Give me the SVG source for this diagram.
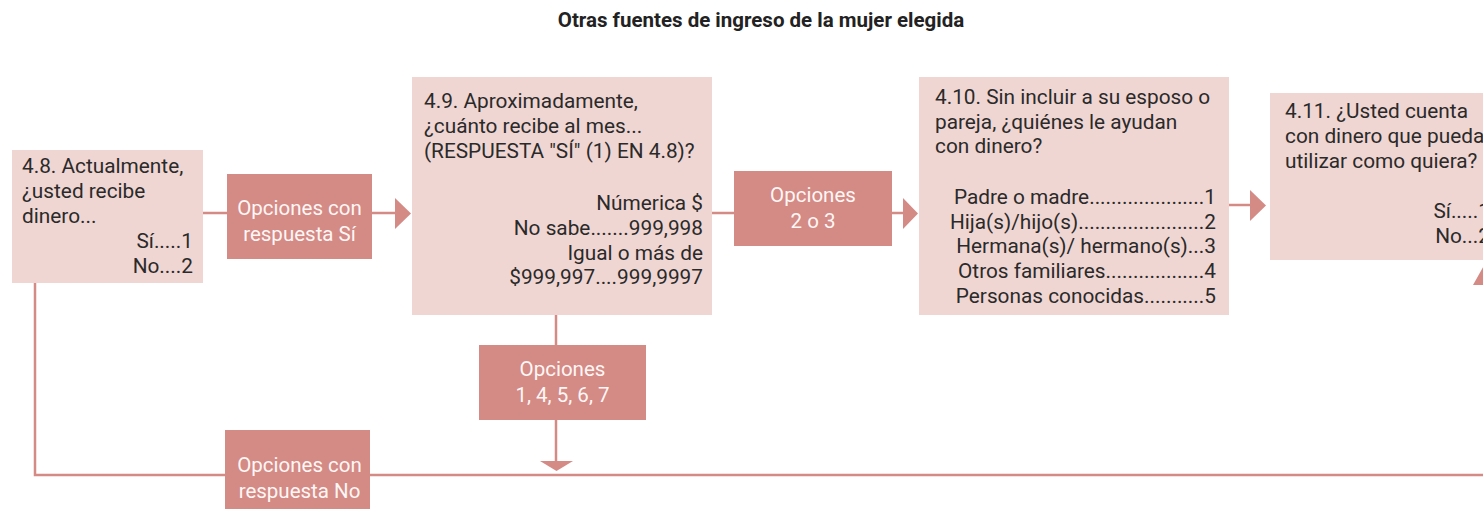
<svg xmlns="http://www.w3.org/2000/svg" width="1483" height="509" viewBox="0 0 1483 509">
<style>
.q{fill:#f0d6d2}
.o{fill:#d48a85}
.ln{stroke:#d48a85;stroke-width:2.5;fill:none}
.ah{fill:#d48a85}
text{font-family:Roboto,"Liberation Sans",sans-serif;font-size:20.8px}
.t{fill:#2a2a2a}
.r{text-anchor:end}
.w{fill:#fff7f5;text-anchor:middle;font-size:20.5px}
.title{font-weight:bold;font-size:20.5px;text-anchor:middle;fill:#222}
</style>
<rect width="1483" height="509" fill="#ffffff"/>
<text class="title" x="761" y="27">Otras fuentes de ingreso de la mujer elegida</text>
<g id="connectors">
<path class="ln" d="M203 213H227M372 213H396"/>
<polygon class="ah" points="395,198 411,213.5 395,229"/>
<path class="ln" d="M712 213H734M892 213H904"/>
<polygon class="ah" points="903,198 918,213.5 903,229"/>
<path class="ln" d="M1229 205H1251"/>
<polygon class="ah" points="1250,190 1266,205.5 1250,221"/>
<path class="ln" d="M556 315V345M556 420V462"/>
<polygon class="ah" points="540,461 573,461 556.5,471"/>
<path class="ln" d="M35 283V475H1490V285"/>
<polygon class="ah" points="1473,285 1507,285 1490,255"/>
</g>
<g id="n48">
<rect class="q" x="12" y="150" width="191" height="133"/>
<text class="t" x="22" y="173">4.8. Actualmente,</text>
<text class="t" x="22" y="198">¿usted recibe</text>
<text class="t" x="22" y="223">dinero...</text>
<text class="t r" x="193" y="248">Sí.....1</text>
<text class="t r" x="193" y="273">No....2</text>
</g>
<g id="optSi">
<rect class="o" x="227" y="174" width="145" height="85"/>
<text class="w" x="299.5" y="215">Opciones con</text>
<text class="w" x="299.5" y="241">respuesta Sí</text>
</g>
<g id="n49">
<rect class="q" x="412" y="77" width="300" height="238"/>
<text class="t" x="424" y="108">4.9. Aproximadamente,</text>
<text class="t" x="424" y="133">¿cuánto recibe al mes...</text>
<text class="t" x="424" y="158">(RESPUESTA "SÍ" (1) EN 4.8)?</text>
<text class="t r" x="703" y="210">Númerica $</text>
<text class="t r" x="703" y="235">No sabe.......999,998</text>
<text class="t r" x="703" y="260">Igual o más de</text>
<text class="t r" x="703" y="284">$999,997....999,9997</text>
</g>
<g id="opt23">
<rect class="o" x="734" y="171" width="158" height="75"/>
<text class="w" x="813" y="202">Opciones</text>
<text class="w" x="813" y="228">2 o 3</text>
</g>
<g id="n410">
<rect class="q" x="919" y="77" width="310" height="238"/>
<text class="t" x="935" y="104">4.10. Sin incluir a su esposo o</text>
<text class="t" x="935" y="129">pareja, ¿quiénes le ayudan</text>
<text class="t" x="935" y="153">con dinero?</text>
<text class="t r" x="1216" y="204">Padre o madre.....................1</text>
<text class="t r" x="1216" y="229">Hija(s)/hijo(s).......................2</text>
<text class="t r" x="1216" y="253">Hermana(s)/ hermano(s)...3</text>
<text class="t r" x="1216" y="278">Otros familiares..................4</text>
<text class="t r" x="1216" y="303">Personas conocidas...........5</text>
</g>
<g id="n411">
<rect class="q" x="1270" y="93" width="230" height="167"/>
<text class="t" x="1285" y="118">4.11. ¿Usted cuenta</text>
<text class="t" x="1285" y="143">con dinero que pueda</text>
<text class="t" x="1285" y="168">utilizar como quiera?</text>
<text class="t r" x="1490" y="218">Sí.....1</text>
<text class="t r" x="1490" y="243">No...2</text>
</g>
<g id="opt14567">
<rect class="o" x="479" y="345" width="167" height="75"/>
<text class="w" x="562.5" y="376">Opciones</text>
<text class="w" x="562.5" y="402">1, 4, 5, 6, 7</text>
</g>
<g id="optNo">
<rect class="o" x="225" y="430" width="145" height="79"/>
<text class="w" x="299.5" y="472">Opciones con</text>
<text class="w" x="299.5" y="498">respuesta No</text>
</g>
</svg>
